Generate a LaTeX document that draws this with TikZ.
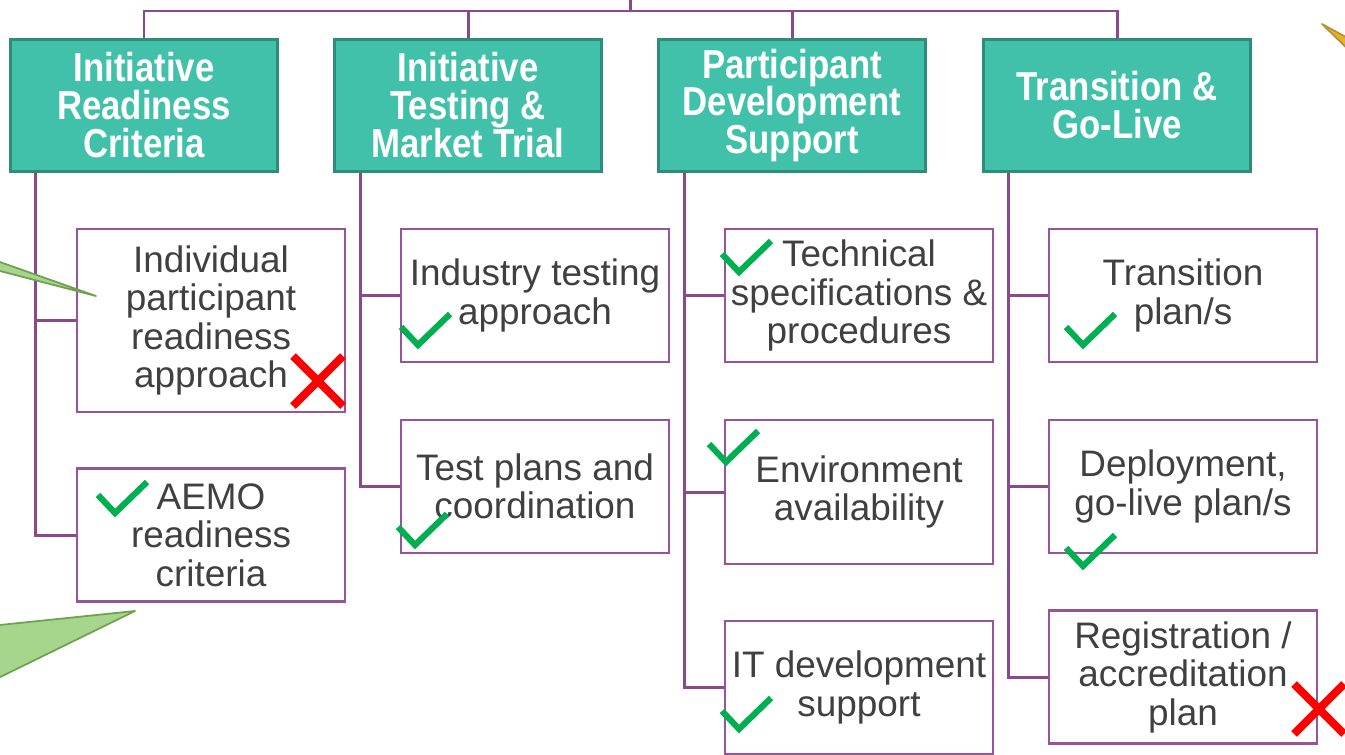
\documentclass[tikz,border=0pt]{standalone}
\usepackage{fontspec}
\setmainfont{Liberation Sans}
\newfontfamily\narrowfont[FakeStretch=0.86]{Liberation Sans}
\usetikzlibrary{calc}

\definecolor{tealfill}{RGB}{66,193,170}
\definecolor{tealedge}{RGB}{46,140,120}
\definecolor{linkpurple}{RGB}{140,72,140}
\definecolor{boxedge}{RGB}{150,85,155}
\definecolor{darktext}{RGB}{64,64,64}
\definecolor{okgreen}{RGB}{0,176,80}
\definecolor{nored}{RGB}{255,0,0}
\definecolor{calloutfill}{RGB}{166,214,140}
\definecolor{calloutedge}{RGB}{112,160,80}
\definecolor{goldfill}{RGB}{230,180,40}
\definecolor{goldedge}{RGB}{185,145,55}

\begin{document}
\begin{tikzpicture}[
    x=0.02cm, y=-0.02cm,
    header/.style={rectangle, draw=tealedge, line width=1.7pt, fill=tealfill, text=white, align=center,
        minimum width=5.36cm, minimum height=2.66cm, inner sep=0pt,
        font=\narrowfont\bfseries\fontsize{23}{21.6}\selectfont},
    item/.style={rectangle, draw=boxedge, line width=1.5pt, fill=white, text=darktext, align=center,
        minimum width=5.36cm, minimum height=2.66cm, inner sep=0pt,
        font=\fontsize{21}{21.9}\selectfont},
    link/.style={draw=linkpurple, line width=1.7pt},
    okline/.style={draw=okgreen, line width=3.5pt},
    noline/.style={draw=nored, line width=4.5pt},
    callout/.style={fill=calloutfill, draw=calloutedge, line width=1pt, line join=round},
    okmark/.pic={\draw[okline] (0,0) -- (17,18) -- (49,-13);},
    nomark/.pic={\draw[noline] (-25,-25) -- (25,25) (-25,25) -- (25,-25);},
]
\useasboundingbox (0,0) rectangle (1345,754);

% ========== HEADERS ==========
\node[header] (h1) at (144,105.5) {Initiative\\Readiness\\Criteria};
\node[header] (h2) at (468,105.5) {Initiative\\Testing \&\\Market Trial};
\node[header] (h3) at (792,105.5) {Participant\\Development\\Support};
\node[header] (h4) at (1117,105.5) {Transition \&\\Go-Live};

\coordinate (root) at (630,0);
\coordinate (bus) at (630,11);
\draw[link] (root) -- (bus);
\foreach \h in {h1,h2,h3,h4}
    \draw[link] (bus) -| (\h.north);

% ========== ITEMS ==========
\node[item, minimum height=3.66cm] (c1a) at (211,320.5) {Individual\\participant\\readiness\\approach};
\node[item] (c1b) at (211,535) {AEMO\\readiness\\criteria};

\node[item] (c2a) at (535,295.5) {Industry testing\\approach};
\node[item] (c2b) at (535,486.5) {Test plans and\\coordination};

\node[item] (c3a) at (859,295.5) {Technical\\specifications \&\\procedures};
\node[item, minimum height=2.88cm] (c3b) at (859,492) {Environment\\availability};
\node[item] (c3c) at (859,687.5) {IT development\\support};

\node[item] (c4a) at (1183,295.5) {Transition\\plan/s};
\node[item] (c4b) at (1183,486.5) {Deployment,\\go-live plan/s};
\node[item] (c4c) at (1183,677) {Registration /\\accreditation\\plan};

% branches
\foreach \c in {c1a,c1b}
    \draw[link] ([shift={(27,0)}]h1.south west) |- (\c.west);
\foreach \c in {c2a,c2b}
    \draw[link] ([shift={(28,0)}]h2.south west) |- (\c.west);
\foreach \c in {c3a,c3b,c3c}
    \draw[link] ([shift={(28,0)}]h3.south west) |- (\c.west);
\foreach \c in {c4a,c4b,c4c}
    \draw[link] ([shift={(27,0)}]h4.south west) |- (\c.west);

% ========== MARKS ==========
\pic at (98,495) {okmark};
\pic at (401,327) {okmark};
\pic at (398,527) {okmark};
\pic at (722,254) {okmark};
\pic at (709,444) {okmark};
\pic at (722,711) {okmark};
\pic at (1066,327) {okmark};
\pic at (1066,548) {okmark};
\pic at (318,381) {nomark};
\pic at (1319,709) {nomark};

% callouts
\draw[callout] (-10,258.5) -- (96,296) -- (-10,268.4) -- cycle;
\draw[callout] (-10,626) -- (135,611) -- (-10,682) -- cycle;
\draw[callout, fill=goldfill, draw=goldedge] (1322,24) -- (1355,42) -- (1355,56) -- cycle;

\end{tikzpicture}
\end{document}
